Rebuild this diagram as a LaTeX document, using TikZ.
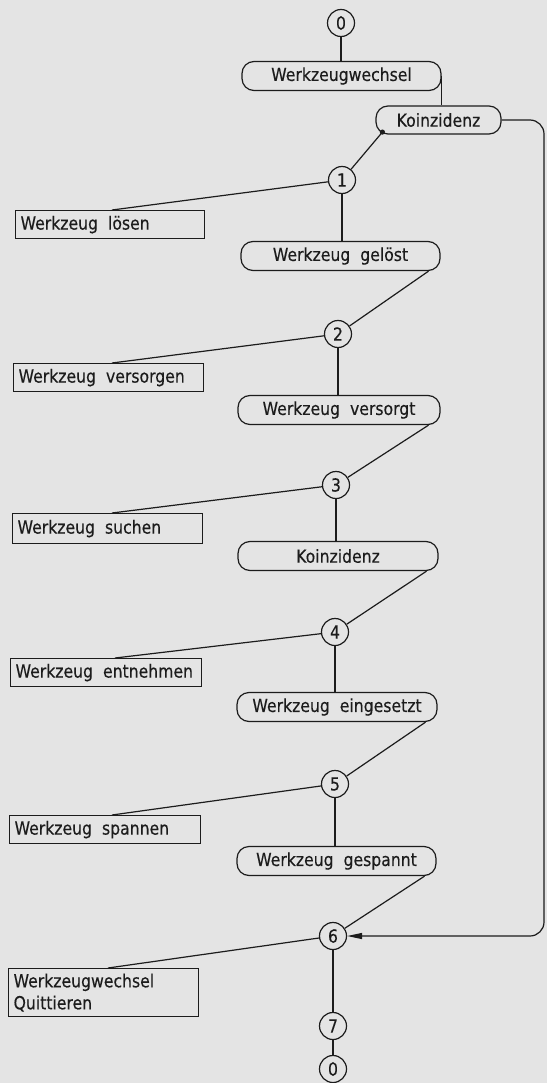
\documentclass[tikz,border=0pt]{standalone}
\usepackage{fontspec}
\setmainfont{DejaVu Sans}[FakeStretch=0.87,FakeBold=0.3]
\usetikzlibrary{arrows.meta,calc}
\definecolor{paper}{HTML}{E4E4E4}
\definecolor{ink}{HTML}{1C1C1C}
\newcommand\wsp{\hspace{10pt}}
\begin{document}
\begin{tikzpicture}[x=1pt,y=-1pt,
  every node/.style={font=\fontsize{18pt}{22pt}\selectfont, text=ink},
  conn/.style={draw=ink, line width=1.2pt},
  stepcirc/.style={circle, draw=ink, line width=1.2pt, minimum size=27pt, inner sep=0pt},
  evbox/.style={draw=ink, line width=1.2pt, rounded corners=12pt, minimum width=200pt, minimum height=29pt, inner sep=0pt},
  actbox/.style={draw=ink, line width=1.2pt, anchor=north west, inner xsep=5pt, inner ysep=0pt, align=left, minimum height=28pt},
]
\fill[paper] (0,0) rectangle (547,1083);
\useasboundingbox (0,0) rectangle (547,1083);

% step circles
\node[stepcirc] (c0a) at (341,23) {0};
\node[stepcirc] (c1) at (342,180) {1};
\node[stepcirc] (c2) at (338,334) {2};
\node[stepcirc] (c3) at (336,485) {3};
\node[stepcirc] (c4) at (335,632) {4};
\node[stepcirc] (c5) at (335,784) {5};
\node[stepcirc] (c6) at (333,936) {6};
\node[stepcirc] (c7) at (333,1026) {7};
\node[stepcirc] (c0b) at (333,1069) {0};

% event boxes
\node[evbox, minimum width=199pt] (WW) at (341.5,76) {Werkzeugwechsel};
\node[evbox, minimum width=125pt, minimum height=28pt] (KA) at (438.5,120) {Koinzidenz};
\node[evbox, minimum width=199pt] (B1) at (340.5,256) {Werkzeug\wsp gelöst};
\node[evbox, minimum width=202pt] (B2) at (339,410) {Werkzeug\wsp versorgt};
\node[evbox] (B3) at (338,556) {Koinzidenz};
\node[evbox] (B4) at (337,707) {Werkzeug\wsp eingesetzt};
\node[evbox, minimum width=199pt] (B5) at (336.5,861) {Werkzeug\wsp gespannt};

% action boxes
\node[actbox, text width=179pt] (L1) at (15,210) {Werkzeug\wsp lösen};
\node[actbox, text width=180pt] (L2) at (13,363) {Werkzeug\wsp versorgen};
\node[actbox, text width=180pt, minimum height=30pt] (L3) at (12,513) {Werkzeug\wsp suchen};
\node[actbox, text width=181pt] (L4) at (10,658) {Werkzeug\wsp entnehmen};
\node[actbox, text width=181pt] (L5) at (9,815) {Werkzeug\wsp spannen};
\node[actbox, text width=180pt, minimum height=48pt] (L6) at (8,968) {Werkzeugwechsel\\Quittieren};

\coordinate (rx) at (544,0);
\coordinate (kdot) at ($(KA.south west)+(7,-2.5)$);

% vertical connectors
\draw[conn] (c0a) -- (c0a |- WW.north);
\draw[conn] (WW.east) -- (WW.east |- KA.north);
\draw[conn] (c1) -- (c1 |- B1.north);
\draw[conn] (c2) -- (c2 |- B2.north);
\draw[conn] (c3) -- (c3 |- B3.north);
\draw[conn] (c4) -- (c4 |- B4.north);
\draw[conn] (c5) -- (c5 |- B5.north);
\draw[conn] (c6) -- (c7);
\draw[conn] (c7) -- (c0b);

% diagonal connectors
\draw[conn] (kdot) -- (c1);
\fill[ink] (kdot) circle (2.6pt);
\draw[conn] ($(B1.south east)+(-12,0)$) -- (c2);
\draw[conn] ($(B2.south east)+(-12,0)$) -- (c3);
\draw[conn] ($(B3.south east)+(-12,0)$) -- (c4);
\draw[conn] ($(B4.south east)+(-12,0)$) -- (c5);
\draw[conn] ($(B5.south east)+(-12,0)$) -- (c6);

% to action boxes
\draw[conn] (c1) -- ($(L1.north west)+(97,0)$);
\draw[conn] (c2) -- ($(L2.north west)+(99,0)$);
\draw[conn] (c3) -- ($(L3.north west)+(100,0)$);
\draw[conn] (c4) -- ($(L4.north west)+(105,0)$);
\draw[conn] (c5) -- ($(L5.north west)+(103,0)$);
\draw[conn] (c6) -- ($(L6.north west)+(100,0)$);

% return loop
\draw[conn, rounded corners=14pt, -{Triangle[length=15pt,width=6pt]}]
  (KA.east) -- (KA.east -| rx) -- (rx |- c6) -- (c6);
\end{tikzpicture}
\end{document}
